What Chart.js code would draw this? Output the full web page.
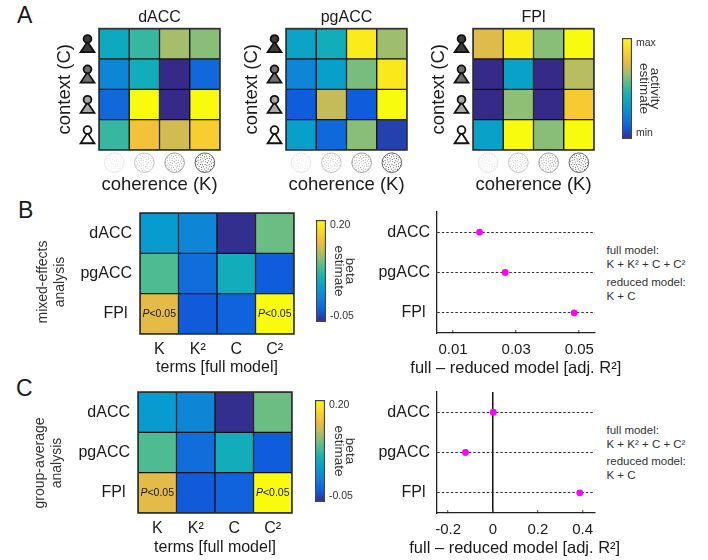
<!DOCTYPE html>
<html><head><meta charset="utf-8">
<style>
html,body{margin:0;padding:0;background:#fff;width:708px;height:560px;overflow:hidden;position:relative;font-family:"Liberation Sans",Arial,sans-serif;color:#1a1a1a}
canvas{position:absolute}
.t{position:absolute;white-space:pre;text-align:center;transform:translate(-50%,-50%)}
.l{position:absolute;white-space:pre;transform:translateY(-50%)}
.r{position:absolute;white-space:pre;text-align:center;transform:translate(-50%,-50%) rotate(-90deg)}
</style>
<script src="https://cdn.jsdelivr.net/npm/chart.js@4"></script>
</head><body>
<script>
// ---------- data ----------
const coherenceCats = ['1','2','3','4'];
const contextRows = ['c4','c3','c2','c1'];
const dACC_activity = [[.40,.50,.66,.62],[.25,.42,0,.15],[.15,1,0,1],[.50,.81,.73,.85]];
const pgACC_activity = [[.37,.42,.95,.65],[.25,.35,.60,.94],[.115,.71,.115,1],[.35,.15,.62,.05]];
const FPl_activity = [[.75,.96,.62,1],[0,.36,0,.69],[0,.63,0,.84],[.36,1,.62,1]];
const coherenceStrength = [.14,.32,.52,.88];
const pawnShades = ['#3c3c3c','#707070','#a9a9a9','#ffffff'];

const termCats = ['K','K²','C','C²'];
const regions = ['dACC','pgACC','FPl '];
const betaMixed = [[.0325,.0125,-.0475,.095],[.085,-.0075,.055,-.0225],[.14,-.0235,-.0165,.2]];
const betaGroup = [[.0325,.0125,-.0475,.095],[.085,-.0075,.055,-.0225],[.14,-.0235,-.0165,.2]];
const sigRow = 2;
const sigCols = [0,3];
const sigPrefix = 'P';
const sigSuffix = '<0.05';

const deltaMixed = [0.0184,0.0265,0.0484];
const deltaGroup = [0.001,-0.123,0.387];
const mixedTicks = [0.01,0.03,0.05];
const groupTicks = [-0.2,0,0.2,0.4];
const betaTicks = [-0.05,0.20];
const betaTickText = ['-0.05','0.20'];
const activityTicks = [0.055,0.945];
const activityTickText = ['min','max'];

// ---------- helpers ----------
const FONT = '"Liberation Sans",Arial,sans-serif';
Chart.defaults.font.family = FONT;
Chart.defaults.color = '#1a1a1a';
Chart.defaults.animation = false;
const stops = [[53,42,135],[15,92,221],[18,125,216],[7,156,207],[21,177,180],[89,189,140],[170,190,105],[240,186,65],[253,215,40],[249,251,14]];
function cmap(t){
  t = Math.max(0,Math.min(1,t))*(stops.length-1);
  const i = Math.min(stops.length-2,Math.floor(t)), f = t-i;
  const c = stops[i].map((v,k)=>Math.round(v+(stops[i+1][k]-v)*f));
  return `rgb(${c[0]},${c[1]},${c[2]})`;
}
function place(box,m,cfg,hasTitle){
  const cv = document.createElement('canvas');
  const W = box.w+m.l+m.r, H = box.h+m.t+m.b;
  cv.width = W; cv.height = H;
  cv.style.left = (box.l-m.l)+'px'; cv.style.top = (box.t-m.t)+'px';
  cv.style.width = W+'px'; cv.style.height = H+'px';
  document.body.appendChild(cv);
  cfg.options = cfg.options||{};
  const s = cfg.options.scales;
  const yRight = s.y && s.y.position==='right';
  Object.assign(cfg.options,{responsive:false,maintainAspectRatio:false,animation:false,
    layout:{autoPadding:false,padding:{left:yRight?m.l:0,right:yRight?0:m.r,bottom:(s.x&&s.x.display===false)?m.b:0,top:hasTitle?0:m.t}}});
  cfg.options.plugins = Object.assign({legend:{display:false},tooltip:{enabled:false}},cfg.options.plugins||{});
  const zero = a=>{a.paddingTop=0;a.paddingBottom=0;a.paddingLeft=0;a.paddingRight=0};
  if(s.x && s.x.display!==false) s.x.afterFit = a=>{a.height=m.b;zero(a)};
  if(s.y) s.y.afterFit = a=>{a.width = yRight?m.r:m.l;zero(a)};
  return new Chart(cv,cfg);
}
const frame = {id:'frame',afterDraw(c){const a=c.chartArea,x=c.ctx;x.save();x.lineWidth=1.6;x.strokeStyle='#333';x.strokeRect(a.left,a.top,a.right-a.left,a.bottom-a.top);x.restore();}};

function heatDatasets(matrix,vmin,vmax){
  return matrix.map(row=>({
    data: row.map(()=>1),
    backgroundColor: row.map(v=>cmap((v-vmin)/(vmax-vmin))),
    borderColor:'#111',borderWidth:1,borderSkipped:false,
    barPercentage:1,categoryPercentage:1
  }));
}
function heatY(rows,labels,pad){
  return {type:'linear',stacked:true,reverse:true,min:0,max:rows,
    afterBuildTicks:a=>{a.ticks=Array.from({length:rows},(_,i)=>({value:i+.5}))},
    grid:{display:false,drawTicks:false},border:{display:false},
    ticks:labels?{autoSkip:false,padding:pad,font:{size:16},callback:(v,i)=>labels[i]}:{display:false}};
}

// ---------- panel A ----------
const pawns = {id:'pawns',afterDraw(c){
  const x=c.ctx,py=c.scales.y,cx=c.chartArea.left-11.5;
  pawnShades.forEach((col,i)=>{
    const cy=py.getPixelForValue(i+.5);
    x.save();x.lineWidth=1.8;x.strokeStyle='#111';x.fillStyle=col;
    x.beginPath();x.moveTo(cx,cy-2);x.lineTo(cx+6.9,cy+8.4);x.lineTo(cx-6.9,cy+8.4);x.closePath();x.fill();x.stroke();
    x.beginPath();x.arc(cx,cy-4.8,3.9,0,Math.PI*2);x.fill();x.stroke();
    x.restore();
  });
}};
const patches = {id:'patches',afterDraw(c){
  const x=c.ctx,px=c.scales.x,cy=c.chartArea.bottom+12.7,R=9.8;
  coherenceStrength.forEach((al,i)=>{
    const cx=px.getPixelForValue(i);
    x.save();x.globalAlpha=al;x.strokeStyle='#222';x.lineWidth=.8;
    x.beginPath();x.arc(cx,cy,R,0,Math.PI*2);x.stroke();
    x.fillStyle='#222';
    for(let k=1;k<=46;k++){
      const rr=R*.93*Math.sqrt(k/46),th=k*2.39996+i;
      x.beginPath();x.arc(cx+rr*Math.cos(th),cy+rr*Math.sin(th),.5,0,Math.PI*2);x.fill();
    }
    x.restore();
  });
}};
function activityPanel(left,name,matrix){
  place({l:left,t:29,w:121,h:121},{l:45,r:6,t:29,b:46},{
    type:'bar',
    data:{labels:coherenceCats,datasets:heatDatasets(matrix,0,1)},
    plugins:[frame,pawns,patches],
    options:{
      plugins:{title:{display:true,text:name,fullSize:false,color:'#1a1a1a',font:{size:16,weight:'normal'},padding:{top:8.4,bottom:1}}},
      scales:{
        x:{stacked:true,grid:{display:false,drawTicks:false},border:{display:false},ticks:{display:false},
           title:{display:true,text:'coherence (K)',font:{size:18.5},color:'#1a1a1a',padding:0}},
        y:Object.assign(heatY(4,null,0),{title:{display:true,text:'context (C)',font:{size:18.5},color:'#1a1a1a',padding:0}})
      }
    }
  },true);
}
activityPanel(99,'dACC',dACC_activity);
activityPanel(286,'pgACC',pgACC_activity);
activityPanel(473,'FPl',FPl_activity);

// ---------- colour bars ----------
function colorbar(box,range,ticks,tickText,titleLines,m,pad){
  place(box,m,{
    type:'bar',
    data:{labels:[''],datasets:[{
      data:[[range[0],range[1]]],
      barPercentage:1,categoryPercentage:1,borderSkipped:false,borderColor:'#444',borderWidth:1.5,
      backgroundColor:ctx=>{
        const a=ctx.chart.chartArea; if(!a) return '#000';
        const g=ctx.chart.ctx.createLinearGradient(0,a.bottom,0,a.top);
        for(let i=0;i<=40;i++) g.addColorStop(i/40,cmap(i/40));
        return g;
      }}]},
    options:{scales:{
      x:{display:false},
      y:{position:'right',min:range[0],max:range[1],
        afterBuildTicks:a=>{a.ticks=ticks.map(v=>({value:v}))},
        grid:{display:false,drawTicks:false},border:{display:false},
        ticks:{autoSkip:false,padding:pad,color:'#333',font:{size:10.5},callback:(v,i)=>tickText[i]},
        title:{display:true,text:titleLines,color:'#333',font:{size:13.5,lineHeight:.86},padding:{top:1,bottom:0}}}
    }}
  });
}
colorbar({l:622,t:38,w:10,h:101},[0,1],activityTicks,activityTickText,['activity','estimate'],{l:2,r:30,t:4,b:4},4);
colorbar({l:316,t:220,w:10,h:102},[-0.067,0.214],betaTicks,betaTickText,['beta','estimate'],{l:2,r:31,t:4,b:4},4);
colorbar({l:315,t:400,w:10,h:102},[-0.067,0.214],betaTicks,betaTickText,['beta','estimate'],{l:2,r:32,t:4,b:4},4);

// ---------- beta heat maps ----------
const sigText = {id:'sigText',afterDatasetsDraw(c){
  const x=c.ctx,px=c.scales.x,py=c.scales.y,y=py.getPixelForValue(sigRow+.5);
  sigCols.forEach(col=>{
    const cx=px.getPixelForValue(col);
    x.save();x.fillStyle='#1a1a1a';x.textBaseline='middle';x.textAlign='left';
    x.font='italic 10.5px '+FONT;const w1=x.measureText(sigPrefix).width;
    x.font='10.5px '+FONT;const w2=x.measureText(sigSuffix).width;
    const x0=cx-(w1+w2)/2;
    x.font='italic 10.5px '+FONT;x.fillText(sigPrefix,x0,y);
    x.font='10.5px '+FONT;x.fillText(sigSuffix,x0+w1,y);
    x.restore();
  });
}};
function betaPanel(box,matrix,mb){
  place(box,{l:100,r:4,t:3,b:mb},{
    type:'bar',
    data:{labels:termCats,datasets:heatDatasets(matrix,-0.05,0.20)},
    plugins:[frame,sigText],
    options:{scales:{
      x:{stacked:true,grid:{display:false,drawTicks:false},border:{display:false},
         ticks:{autoSkip:false,maxRotation:0,padding:6,font:{size:16}},
         title:{display:true,text:'terms [full model]',font:{size:16},color:'#1a1a1a',padding:0}},
      y:heatY(3,regions,8)
    }}
  });
}
betaPanel({l:140,t:213,w:154,h:121},betaMixed,43);
betaPanel({l:138,t:392,w:154,h:121},betaGroup,44);

// ---------- dot plots ----------
function dotPanel(box,values,ticks,range,zeroLine){
  place(box,{l:100,r:4,t:3,b:43},{
    type:'scatter',
    data:{datasets:[{data:values.map((v,i)=>({x:v,y:regions[i]})),
      pointRadius:3.4,pointBackgroundColor:'#ff00ff',pointBorderColor:'#ff00ff',pointBorderWidth:0,showLine:false,clip:false}]},
    options:{scales:{
      x:{type:'linear',min:range[0],max:range[1],
        afterBuildTicks:a=>{a.ticks=ticks.map(v=>({value:v}))},
        border:{color:'#222',width:1.3},
        grid:{drawOnChartArea:!!zeroLine,drawTicks:true,tickLength:-3,tickColor:'#444',tickWidth:1,lineWidth:1.5,
          color:c=>(zeroLine&&c.tick&&c.tick.value===0)?'#111':'rgba(0,0,0,0)'},
        ticks:{autoSkip:false,maxRotation:0,padding:10.5,font:{size:15},callback:v=>String(v)}},
      y:{type:'category',labels:regions,offset:true,
        border:{color:'#222',width:1.3,dash:[2.5,2]},
        grid:{color:'#333',lineWidth:1,drawTicks:false},
        ticks:{autoSkip:false,padding:7,font:{size:16}}}
    }}
  });
}
dotPanel({l:437,t:212,w:158,h:121},deltaMixed,mixedTicks,[0.0049,0.055],false);
dotPanel({l:437,t:392,w:158,h:121},deltaGroup,groupTicks,[-0.25,0.455],true);

// ---------- free text ----------
function txt(cls,x,y,s,size,extra){
  const d=document.createElement('div');d.className=cls;d.style.left=x+'px';d.style.top=y+'px';
  d.style.fontSize=size+'px';d.textContent=s;if(extra)Object.assign(d.style,extra);document.body.appendChild(d);
}
txt('l',17,15,'A',23);txt('l',18,210,'B',23);txt('l',16,388,'C',23);
txt('t',515.8,367,'full – reduced model [adj. R²]',16.5);
txt('t',514.7,547,'full – reduced model [adj. R²]',16.5);
txt('r',50,282,'mixed-effects\nanalysis',14,{lineHeight:'16.5px',color:'#333'});
txt('r',48,463,'group-average\nanalysis',14,{lineHeight:'17px',color:'#333'});
const legendLines = ['full model:','K + K² + C + C²','reduced model:','K + C'];
[250,264,281.7,295.7].forEach((y,i)=>txt('l',606.5,y,legendLines[i],11.5,{color:'#333'}));
[430,443.5,461,475.3].forEach((y,i)=>txt('l',606.5,y,legendLines[i],11.5,{color:'#333'}));
</script>
</body></html>
